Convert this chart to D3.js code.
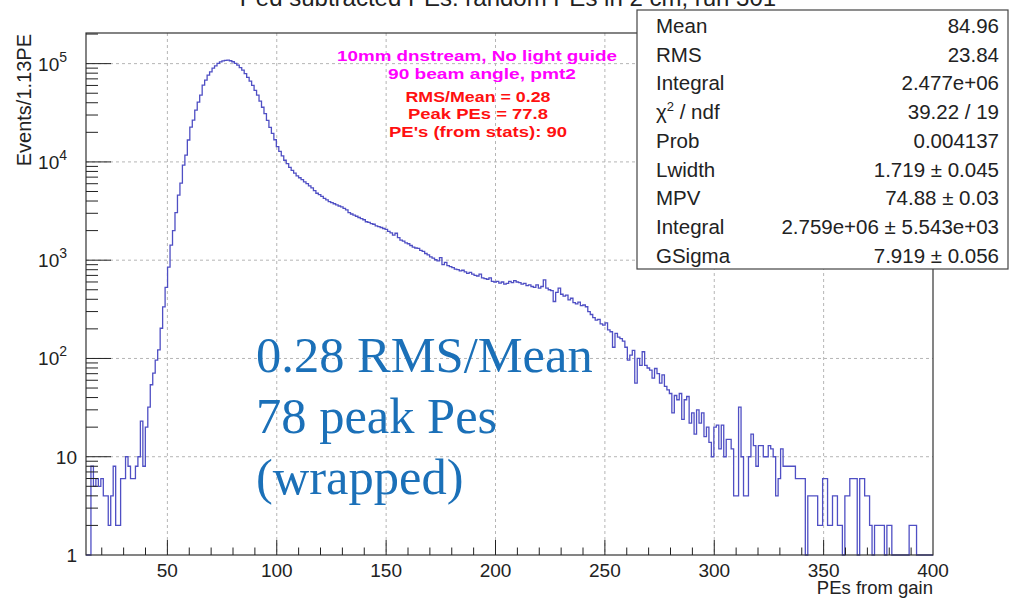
<!doctype html>
<html>
<head>
<meta charset="utf-8">
<title>PEs from gain</title>
<script src="https://cdn.jsdelivr.net/npm/d3@7"></script>
<style>
body { margin:0; background:#fff; }
svg { display:block; font-family:'Liberation Sans', Arial, Helvetica, sans-serif; }
</style>
</head>
<body>
<div id="chart"></div>
<script>

// histogram: first bin low edge and bin width (PE)
var binLo = 12.8;
var binW = 1.13;

// bin contents (343 bins)
var counts = [
 0,0,8,5,6,5,6,4,4,2,
 4,8,2,2,6,6,10,8,6,6,
 8,10,23,8,20,32,54,71,96,122,
 203,335,530,850,1420,2000,3050,4590,6080,9270,
 11700,16700,22600,26600,33600,40600,47800,60400,67900,76400,
 82500,90000,95000,100500,104000,106700,108000,108600,107000,104500,
 100500,96600,91000,86000,79000,72500,66500,60000,53500,47800,
 41500,36000,31000,26500,22500,19500,16800,14300,12800,11500,
 10400,9600,8800,8200,7700,7200,6900,6600,6250,6000,
 5700,5450,5100,4800,4650,4450,4250,4100,3950,3850,
 3750,3650,3560,3480,3370,3250,3050,2950,2870,2800,
 2720,2650,2580,2460,2430,2350,2320,2230,2200,2150,
 2100,2060,1960,1900,1800,1880,1700,1600,1560,1500,
 1470,1410,1360,1330,1320,1260,1230,1170,1130,1080,
 1050,1010,985,1060,900,950,880,860,840,810,
 800,780,790,760,735,750,720,700,690,720,
 660,650,640,660,610,600,610,585,600,570,
 580,610,590,620,600,590,570,580,550,560,
 540,530,560,520,540,630,520,500,490,380,
 470,520,450,430,440,395,410,370,360,375,
 345,350,336,300,280,260,245,250,225,218,
 230,195,187,130,180,165,159,150,130,96,
 108,121,56,100,85,117,85,80,76,63,
 79,70,56,68,52,48,44,28,42,38,
 44,24,38,41,22,28,17,30,22,28,
 16,20,14,10,20,21,12,21,10,15,
 15,12,4,4,32,10,4,4,10,17,
 13,8,13,13,10,10,13,12,10,4,
 6,12,8,8,8,8,8,6,6,6,
 6,0,4,4,4,4,2,2,6,6,
 2,2,4,4,2,2,0,4,4,6,
 6,6,0,6,6,4,4,2,0,2,
 2,2,2,0,2,2,0,0,0,0,
 0,0,0,2,2,2,0,0,0,0,
 0,0,0
];

var xTicks = [50,100,150,200,250,300,350,400];
var xGrid = [50,100,150,200,250,300,350];
var yDecades = [1,10,100,1000,10000,100000];
var yLabels = ["1","10","10|2","10|3","10|4","10|5"];

var statLabels = ["Mean","RMS","Integral","χ|2| / ndf","Prob","Lwidth","MPV","Integral","GSigma"];
var statValues = ["84.96","23.84","2.477e+06","39.22 / 19","0.004137","1.719 ± 0.045","74.88 ± 0.03","2.759e+06 ± 5.543e+03","7.919 ± 0.056"];

var notesMagenta = ["10mm dnstream, No light guide","90 beam angle, pmt2"];
var notesRed = ["RMS/Mean = 0.28","Peak PEs = 77.8","PE's (from stats): 90"];
var bigNotes = ["0.28 RMS/Mean","78 peak Pes","(wrapped)"];

var titleText = "Ped subtracted PEs: random PEs in 2 cm, run 301";

var width = 1012, height = 599;
var padL = 86, padR = 933, padT = 33, padB = 555;

var svg = d3.select("#chart").append("svg")
  .attr("width",width)
  .attr("height",height);

var x = d3.scaleLinear().domain([binLo,400]).range([padL,padR]);
var y = d3.scaleLog().domain([1,2.05e5]).range([padB,padT]).clamp(true);

// title (mostly off the top of the picture)
svg.append("text")
  .attr("x",508).attr("y",6)
  .attr("text-anchor","middle")
  .attr("font-size",24)
  .attr("fill","#222")
  .text(titleText);

// grid
svg.selectAll(".vgrid").data(xGrid).enter().append("line")
  .attr("x1",function(d){return x(d);}).attr("x2",function(d){return x(d);})
  .attr("y1",padT).attr("y2",padB)
  .attr("stroke","#b5b5b5").attr("stroke-dasharray","3,3");

svg.selectAll(".hgrid").data(yDecades.slice(1)).enter().append("line")
  .attr("x1",padL).attr("x2",padR)
  .attr("y1",function(d){return y(d);}).attr("y2",function(d){return y(d);})
  .attr("stroke","#b5b5b5").attr("stroke-dasharray","3,3");

// histogram outline
var pts = [[binLo,0]];
counts.forEach(function(c,i){
  var lo = binLo + i*binW, hi = Math.min(lo + binW, 400);
  pts.push([lo,c]);
  pts.push([hi,c]);
});
pts.push([400,0]);

var line = d3.line()
  .x(function(d){return x(d[0]);})
  .y(function(d){return d[1] > 0 ? y(d[1]) : padB;});

svg.append("path")
  .attr("d",line(pts))
  .attr("fill","none")
  .attr("stroke","#4f4fc4")
  .attr("stroke-width",1.3);

// frame
svg.append("rect")
  .attr("x",padL).attr("y",padT)
  .attr("width",padR-padL).attr("height",padB-padT)
  .attr("fill","none").attr("stroke","#333").attr("stroke-width",1.2);

// x ticks (major + minor every 10)
var xMinor = d3.range(20,400,10).filter(function(v){return v % 50 != 0;});
svg.selectAll(".xmin").data(xMinor).enter().append("line")
  .attr("x1",function(d){return x(d);}).attr("x2",function(d){return x(d);})
  .attr("y1",padB).attr("y2",padB-7.5)
  .attr("stroke","#222");
svg.selectAll(".xmaj").data(xTicks.slice(0,-1)).enter().append("line")
  .attr("x1",function(d){return x(d);}).attr("x2",function(d){return x(d);})
  .attr("y1",padB).attr("y2",padB-15)
  .attr("stroke","#222");

svg.selectAll(".xlab").data(xTicks).enter().append("text")
  .attr("x",function(d){return x(d);})
  .attr("y",577)
  .attr("text-anchor","middle")
  .attr("font-size",19)
  .attr("fill","#222")
  .text(function(d){return d;});

svg.append("text")
  .attr("x",padR).attr("y",594)
  .attr("text-anchor","end")
  .attr("font-size",18.5)
  .attr("fill","#222")
  .text("PEs from gain");

// y ticks on the log axis
var yMinor = [];
yDecades.forEach(function(dec){
  for(var k=2;k<=9;k++){ if(dec*k < 2.05e5) yMinor.push(dec*k); }
});
svg.selectAll(".ymin").data(yMinor).enter().append("line")
  .attr("x1",padL).attr("x2",padL+12)
  .attr("y1",function(d){return y(d);}).attr("y2",function(d){return y(d);})
  .attr("stroke","#222");
svg.selectAll(".ymaj").data(yDecades.slice(1)).enter().append("line")
  .attr("x1",padL).attr("x2",padL+25)
  .attr("y1",function(d){return y(d);}).attr("y2",function(d){return y(d);})
  .attr("stroke","#222");

var ylab = svg.selectAll(".ylab").data(yDecades).enter().append("text")
  .attr("x",function(d,i){return yLabels[i].indexOf("|")>0 ? 67 : 77;})
  .attr("y",function(d){return y(d)+7;})
  .attr("text-anchor","end")
  .attr("font-size",19)
  .attr("fill","#222");
ylab.each(function(d,i){
  var parts = yLabels[i].split("|");
  var t = d3.select(this);
  t.append("tspan").text(parts[0]);
  if(parts.length>1){
    t.append("tspan").attr("dy",-9).attr("font-size",14).text(parts[1]);
  }
});

svg.append("text")
  .attr("transform","translate(31,34) rotate(-90)")
  .attr("text-anchor","end")
  .attr("font-size",20)
  .attr("fill","#222")
  .text("Events/1.13PE");

// notes on the pad (widths as in the picture)
var magWidths = [280,188];
var redWidths = [145,140,178];

svg.selectAll(".mag").data(notesMagenta).enter().append("text")
  .attr("x",function(d,i){return i==0 ? 477 : 482;})
  .attr("y",function(d,i){return 61 + i*18;})
  .attr("text-anchor","middle")
  .attr("font-size",15.5)
  .attr("font-weight","bold")
  .attr("fill","#ff00ff")
  .attr("textLength",function(d,i){return magWidths[i];})
  .attr("lengthAdjust","spacingAndGlyphs")
  .text(function(d){return d;});

svg.selectAll(".red").data(notesRed).enter().append("text")
  .attr("x",478)
  .attr("y",function(d,i){return 102 + i*17.3;})
  .attr("text-anchor","middle")
  .attr("font-size",15)
  .attr("font-weight","bold")
  .attr("fill","#ff1010")
  .attr("textLength",function(d,i){return redWidths[i];})
  .attr("lengthAdjust","spacingAndGlyphs")
  .text(function(d){return d;});

svg.selectAll(".big").data(bigNotes).enter().append("text")
  .attr("x",256)
  .attr("y",function(d,i){return 372 + i*61;})
  .attr("font-family","'Liberation Serif', 'Times New Roman', serif")
  .attr("font-size",50.5)
  .attr("fill","#1b70b8")
  .text(function(d){return d;});

// stats box
var box = svg.append("g");
box.append("rect")
  .attr("x",637).attr("y",10)
  .attr("width",371).attr("height",259)
  .attr("fill","#fff").attr("stroke","#444").attr("stroke-width",1.2);

var rows = box.selectAll(".srow").data(statLabels).enter().append("g");
rows.append("text")
  .attr("x",656)
  .attr("y",function(d,i){return 33 + i*28.7;})
  .attr("font-size",20.5)
  .attr("fill","#222")
  .each(function(d){
    var parts = d.split("|");
    var t = d3.select(this);
    t.append("tspan").text(parts[0]);
    if(parts.length>1){
      t.append("tspan").attr("dy",-8).attr("font-size",13).text(parts[1]);
      t.append("tspan").attr("dy",8).text(parts[2]);
    }
  });
rows.append("text")
  .attr("x",999)
  .attr("y",function(d,i){return 33 + i*28.7;})
  .attr("text-anchor","end")
  .attr("font-size",20.5)
  .attr("fill","#222")
  .text(function(d,i){return statValues[i];});

</script>
</body>
</html>
